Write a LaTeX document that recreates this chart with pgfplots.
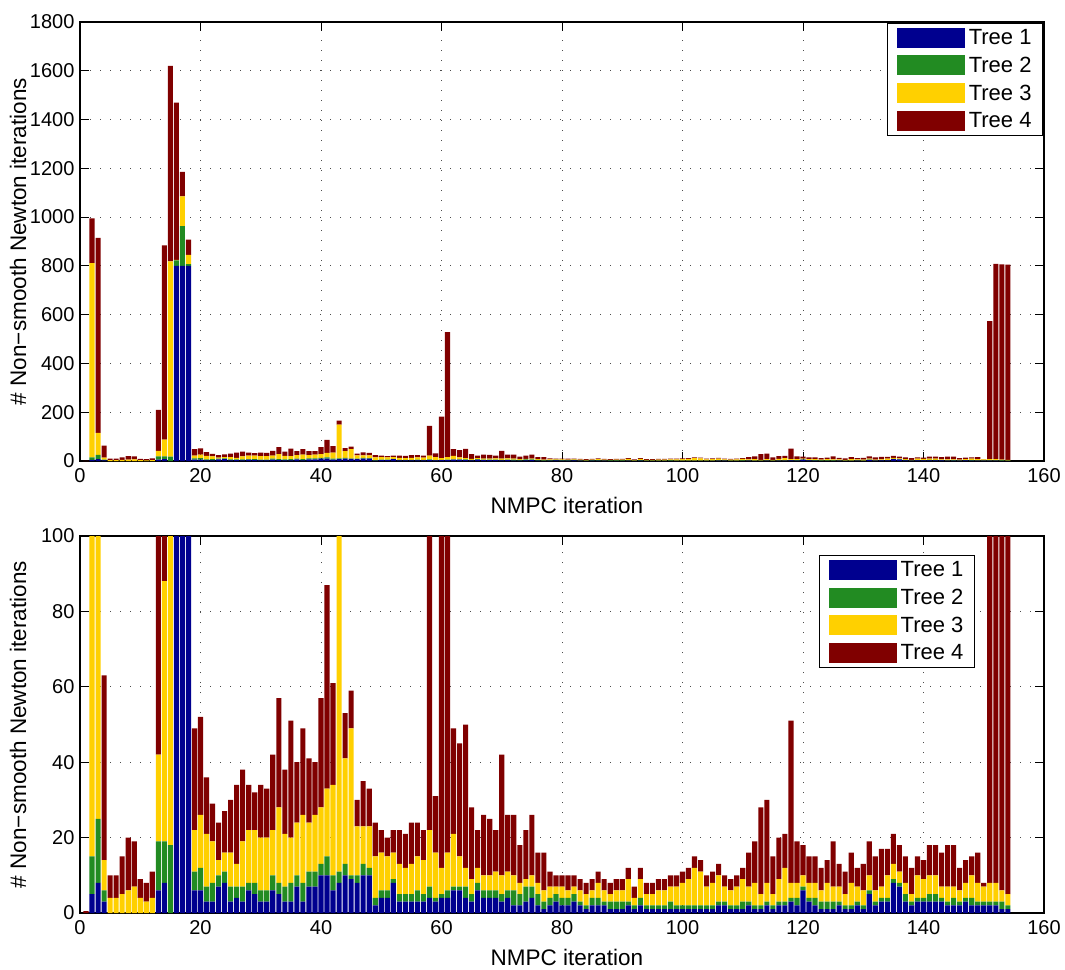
\documentclass[border=0pt]{standalone}
\usepackage{pgfplots}
\pgfplotsset{compat=1.18}
\usepackage{pgfplotstable}
\usepackage{fontspec}
\setmainfont{Liberation Sans}

\definecolor{t1}{RGB}{0,0,143}
\definecolor{t2}{RGB}{34,139,34}
\definecolor{t3}{RGB}{255,208,0}
\definecolor{t4}{RGB}{128,0,0}

\pgfplotstableread{
x a b c d
1 0 0 0 0.5
2 5 10 796 184
3 8 17 90 800
4 3 3 8 49
5 0 0 4 6
6 0 0 4 6
7 0 0 5 10
8 0 0 6 14
9 0 0 7 12
10 0 0 4 5
11 0 0 3 5
12 0 0 4 7
13 6 13 23 168
14 8 11 69 796
15 0 18 800 802
16 800 23 2 644
17 800 163 122 100
18 800 7 38 63
19 6 5 11 27
20 6 6 14 26
21 3 4 14 15
22 3 5 11 10
23 7 3 4 10
24 8 3 5 11
25 3 4 9 14
26 4 3 6 21
27 3 4 12 19
28 6 2 14 12
29 5 3 14 10
30 3 3 14 14
31 3 3 14 13
32 6 4 12 20
33 5 3 20 29
34 3 4 14 17
35 3 5 12 31
36 7 3 14 16
37 3 5 18 23
38 7 4 13 17
39 7 4 15 14
40 10 3 15 29
41 10 5 18 54
42 6 4 24 27
43 8 3 138 17
44 10 3 28 12
45 9 1 39 10
46 8 2 13 7
47 10 3 10 12
48 10 2 11 10
49 2 2 11 9
50 4 2 10 6
51 4 2 9 5
52 8 1 7 6
53 3 2 8 9
54 3 2 7 9
55 3 2 8 11
56 3 3 9 9
57 3 2 9 8
58 4 3 15 122
59 3 1 12 15
60 4 1 7 170
61 4 2 10 512
62 6 1 14 28
63 6 1 8 30
64 4 3 5 38
65 3 2 4 19
66 6 2 4 10
67 4 2 4 16
68 4 2 4 15
69 4 2 5 11
70 3 2 5 32
71 4 2 5 15
72 2 4 4 16
73 2 3 3 10
74 3 4 2 13
75 4 3 3 16
76 2 3 3 8
77 1 2 3 10
78 2 2 3 4
79 3 2 2 3
80 2 2 3 3
81 2 2 2 4
82 3 2 2 3
83 2 1 3 3
84 1 1 3 3
85 2 2 2 3
86 2 2 4 3
87 2 1 3 3
88 1 2 2 3
89 1 2 3 3
90 1 2 3 3
91 2 1 6 3
92 1 1 2 3
93 2 2 5 3
94 1 1 3 3
95 1 1 3 3
96 1 1 4 3
97 1 1 4 3
98 1 2 4 3
99 1 1 5 3
100 1 1 6 3
101 1 1 7 3
102 1 1 10 3
103 1 1 9 3
104 1 1 5 3
105 1 1 6 3
106 2 1 7 3
107 2 1 4 3
108 1 1 4 3
109 1 1 5 3
110 1 2 6 3
111 2 1 4 9
112 1 1 6 11
113 1 1 3 23
114 2 1 5 22
115 1 1 3 10
116 2 1 6 11
117 2 1 9 9
118 3 1 4 43
119 2 2 4 11
120 6 1 3 8
121 3 1 4 7
122 2 2 4 7
123 1 2 3 6
124 1 2 5 6
125 1 2 4 12
126 2 1 4 6
127 1 1 3 6
128 1 1 6 8
129 2 1 4 5
130 1 1 4 7
131 5 1 4 9
132 2 1 3 9
133 3 1 3 10
134 3 1 6 7
135 8 1 4 8
136 7 1 3 7
137 3 2 3 7
138 2 1 2 7
139 3 1 6 5
140 3 1 5 5
141 3 2 5 8
142 3 2 5 8
143 3 1 3 9
144 2 1 4 11
145 2 2 3 11
146 2 1 3 6
147 3 1 4 6
148 2 2 6 5
149 2 1 5 8
150 2 1 4 1
151 2 1 5 566
152 2 1 5 800
153 1 2 3 800
154 1 1 3 800
}\data

\pgfplotsset{
  base/.style={
    scale only axis, width=964pt,
    xmin=0, xmax=160, ymin=0,
    xtick={0,20,...,160},
    ybar stacked, bar width=0.85,
    tick align=inside, xtick pos=both, ytick pos=both,
    major tick length=9pt,
    axis line style={line width=1.1pt, black},
    every tick/.style={line width=0.9pt, black},
    grid=major,
    major grid style={line width=1pt, black!70, dash pattern=on 1.2pt off 8.8pt},
    /pgf/number format/assume math mode=true,
    /pgf/number format/1000 sep={},
    tick label style={font=\fontsize{20}{23}\selectfont},
    xticklabel style={yshift=-4pt},
    yticklabel style={xshift=-2pt},
    label style={font=\fontsize{22.5}{26}\selectfont},
    xlabel={NMPC iteration},
    ylabel={\# Non−smooth Newton iterations},
    xlabel style={at={(axis description cs:0.5,0)}, anchor=center, yshift=-44pt, xshift=5pt},
    ylabel style={at={(axis description cs:-0.0643,0.5)}, anchor=center},
    legend cell align=left,
    legend style={draw=black, line width=1pt, fill=white,
      font=\fontsize{22}{25}\selectfont,
      inner xsep=9pt, inner ysep=4pt, row sep=7pt},
  },
  tree/.style={fill=#1, draw=none,
    legend image code/.code={\fill[#1] (0pt,-10pt) rectangle (68pt,10pt); \path (70pt,0pt);}},
}

\begin{document}
\begin{tikzpicture}
\path[use as bounding box] (-80pt,-508pt) rectangle (985pt,461pt);
\begin{axis}[base, at={(0pt,0pt)}, anchor=south west, height=439pt,
  ymax=1800, ytick={0,200,...,1800},
  legend style={at={(0.999,0.998)}, anchor=north east}]
\addplot[tree=t1] table[x=x,y=a] {\data};
\addplot[tree=t2] table[x=x,y=b] {\data};
\addplot[tree=t3] table[x=x,y=c] {\data};
\addplot[tree=t4] table[x=x,y=d] {\data};
\legend{Tree 1,Tree 2,Tree 3,Tree 4}
\end{axis}
\begin{axis}[base, at={(0pt,-75pt)}, anchor=north west, height=377pt,
  ymax=100, ytick={0,20,...,100},
  legend style={at={(0.9284,0.9496)}, anchor=north east}]
\addplot[tree=t1] table[x=x,y=a] {\data};
\addplot[tree=t2] table[x=x,y=b] {\data};
\addplot[tree=t3] table[x=x,y=c] {\data};
\addplot[tree=t4] table[x=x,y=d] {\data};
\legend{Tree 1,Tree 2,Tree 3,Tree 4}
\end{axis}
\end{tikzpicture}
\end{document}
